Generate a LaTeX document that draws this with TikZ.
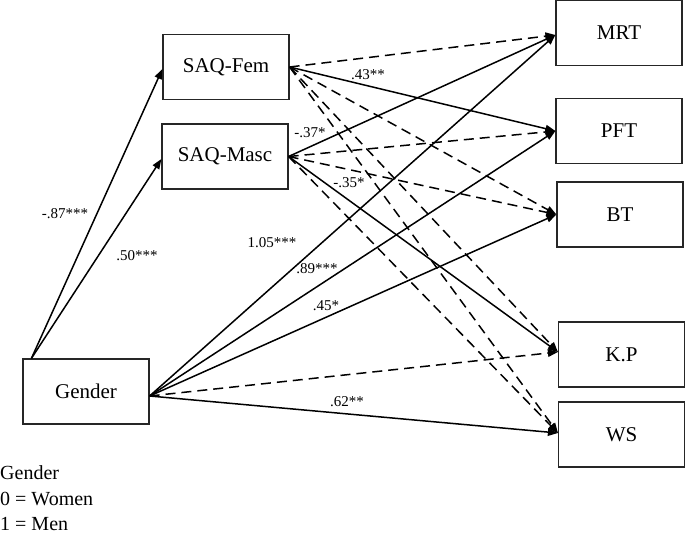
\documentclass[tikz,border=0pt]{standalone}
\usepackage{fontspec}
\setmainfont{Liberation Serif}
\usetikzlibrary{arrows.meta}
\begin{document}
\begin{tikzpicture}[x=1pt,y=-1pt,
  box/.style={draw=black!85,line width=1.2pt,minimum width=126pt,minimum height=65pt,inner sep=0pt,font=\fontsize{21}{24}\selectfont},
  path/.style={line width=1.5pt,-{Triangle[length=10pt,width=7.5pt]}},
  ns/.style={path,dash pattern=on 10pt off 6pt},
  lab/.style={font=\fontsize{15}{17}\selectfont,inner sep=0pt},
  leg/.style={font=\fontsize{20}{24}\selectfont,inner sep=0pt,anchor=west}]
\useasboundingbox (0,0) rectangle (685,533);
\node[box] (fem) at (226,67) {SAQ-Fem};
\node[box] (masc) at (225,156.5) {SAQ-Masc};
\node[box] (gender) at (86,391.5) {Gender};
\node[box] (mrt) at (619,33) {MRT};
\node[box] (pft) at (619,131) {PFT};
\node[box] (bt) at (620,214.5) {BT};
\node[box] (kp) at (621.5,354.5) {K.P};
\node[box] (ws) at (621.5,434.5) {WS};
\coordinate (gout) at ([yshift=-4.5pt]gender.east);
\coordinate (gtop) at ([xshift=9pt]gender.north west);
% Gender to SAQ
\draw[path] (gtop) -- ([yshift=-2pt]fem.west);
\draw[path] (gtop) -- ([yshift=-2.5pt]masc.west);
% SAQ-Fem
\draw[ns] (fem.east) -- ([yshift=-2pt]mrt.west);
\draw[path] (fem.east) -- (pft.west);
\draw[ns] (fem.east) -- (bt.west);
\draw[ns] (fem.east) -- ([yshift=2.5pt]kp.west);
\draw[ns] (fem.east) -- ([yshift=1.5pt]ws.west);
% SAQ-Masc
\draw[path] (masc.east) -- ([yshift=-2pt]mrt.west);
\draw[ns] (masc.east) -- (pft.west);
\draw[ns] (masc.east) -- (bt.west);
\draw[path] (masc.east) -- ([yshift=2.5pt]kp.west);
\draw[ns] (masc.east) -- ([yshift=1.5pt]ws.west);
% Gender
\draw[path] (gout) -- ([yshift=-2pt]mrt.west);
\draw[path] (gout) -- (pft.west);
\draw[path] (gout) -- (bt.west);
\draw[ns] (gout) -- ([yshift=2.5pt]kp.west);
\draw[path] (gout) -- ([yshift=1.5pt]ws.west);
% labels
\node[lab] (l1) at (65,214) {-.87***};
\node[lab] (l2) at (137,256) {.50***};
\node[lab] (l3) at (368,75) {.43**};
\node[lab] (l4) at (310,133) {-.37*};
\node[lab] (l5) at (349,183) {-.35*};
\node[lab] (l6) at (272,243) {1.05***};
\node[lab] (l7) at (317,269) {.89***};
\node[lab] (l8) at (326,306) {.45*};
\node[lab] (l9) at (347,402) {.62**};
% legend
\node[leg] (g1) at (0,473) {Gender};
\node[leg] (g2) at (0,498.5) {0 = Women};
\node[leg] (g3) at (0,523.5) {1 = Men};
\end{tikzpicture}
\end{document}
